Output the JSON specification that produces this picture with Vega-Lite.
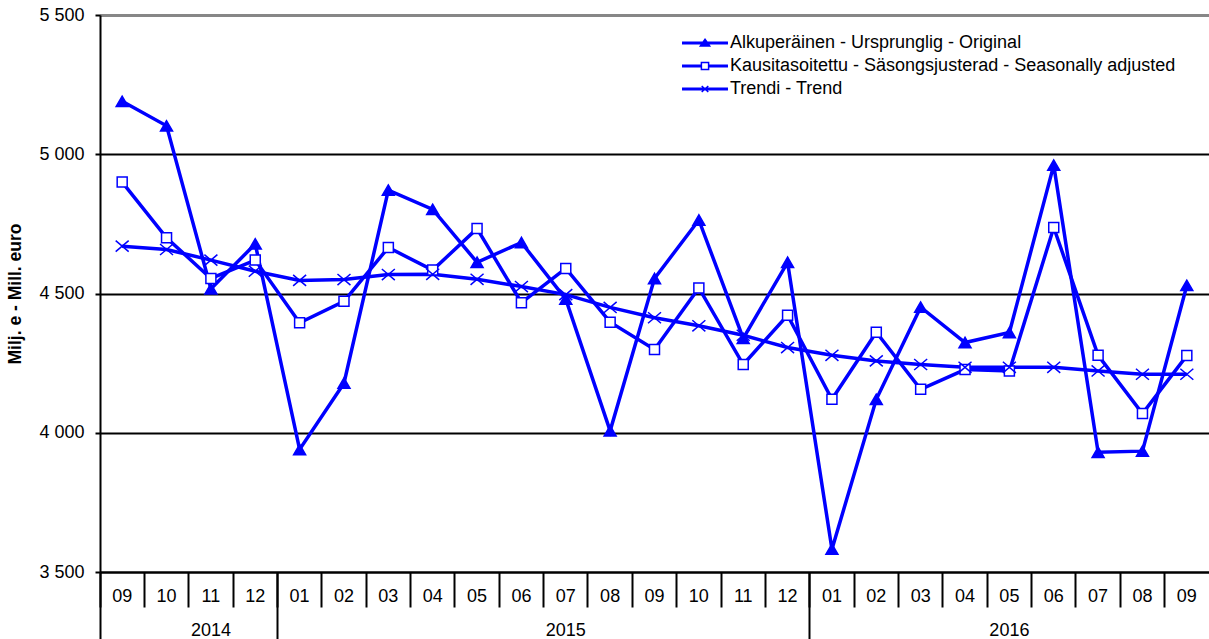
{
  "$schema": "https://vega.github.io/schema/vega-lite/v6.json",
  "width": 1109,
  "height": 557,
  "autosize": {"type": "none"},
  "padding": {"left": 100, "top": 15, "right": 0, "bottom": 67},
  "background": "white",
  "config": {
    "view": {"stroke": null},
    "font": "Liberation Sans",
    "axis": {"labelFont": "Liberation Sans", "labelColor": "#000000", "titleColor": "#000000", "titleFont": "Liberation Sans"}
  },
  "data": {
    "values": [
      {"month": "2014-09", "orig": 5190, "sa": 4900, "trend": 4670},
      {"month": "2014-10", "orig": 5102, "sa": 4700, "trend": 4658},
      {"month": "2014-11", "orig": 4517, "sa": 4554, "trend": 4620},
      {"month": "2014-12", "orig": 4678, "sa": 4620, "trend": 4580},
      {"month": "2015-01", "orig": 3940, "sa": 4395, "trend": 4547},
      {"month": "2015-02", "orig": 4178, "sa": 4472, "trend": 4550},
      {"month": "2015-03", "orig": 4871, "sa": 4665, "trend": 4568},
      {"month": "2015-04", "orig": 4802, "sa": 4584, "trend": 4569},
      {"month": "2015-05", "orig": 4612, "sa": 4733, "trend": 4551},
      {"month": "2015-06", "orig": 4683, "sa": 4467, "trend": 4525},
      {"month": "2015-07", "orig": 4480, "sa": 4590, "trend": 4496},
      {"month": "2015-08", "orig": 4007, "sa": 4397, "trend": 4450},
      {"month": "2015-09", "orig": 4554, "sa": 4299, "trend": 4413},
      {"month": "2015-10", "orig": 4764, "sa": 4520, "trend": 4384},
      {"month": "2015-11", "orig": 4339, "sa": 4245, "trend": 4350},
      {"month": "2015-12", "orig": 4612, "sa": 4422, "trend": 4306},
      {"month": "2016-01", "orig": 3582, "sa": 4120, "trend": 4278},
      {"month": "2016-02", "orig": 4120, "sa": 4361, "trend": 4258},
      {"month": "2016-03", "orig": 4451, "sa": 4156, "trend": 4245},
      {"month": "2016-04", "orig": 4324, "sa": 4227, "trend": 4235},
      {"month": "2016-05", "orig": 4360, "sa": 4222, "trend": 4235},
      {"month": "2016-06", "orig": 4961, "sa": 4737, "trend": 4235},
      {"month": "2016-07", "orig": 3930, "sa": 4278, "trend": 4222},
      {"month": "2016-08", "orig": 3934, "sa": 4069, "trend": 4210},
      {"month": "2016-09", "orig": 4529, "sa": 4277, "trend": 4210}
    ]
  },
  "transform": [{"fold": ["orig", "sa", "trend"], "as": ["series", "value"]}],
  "layer": [
    {
      "mark": {"type": "line", "stroke": "#0000ff", "strokeWidth": 3.5},
      "encoding": {
        "x": {
          "field": "month", "type": "ordinal",
          "scale": {"type": "band", "paddingInner": 0, "paddingOuter": 0},
          "axis": {
            "title": null, "orient": "bottom", "labelExpr": "slice(datum.value, 5)",
            "ticks": false, "tickSize": 0, "labelPadding": 15, "labelFontSize": 18,
            "labelAngle": 0, "labelBaseline": "top", "domain": true, "domainColor": "#000000",
            "domainWidth": 2, "grid": false
          }
        },
        "y": {
          "field": "value", "type": "quantitative",
          "scale": {"domain": [3500, 5500], "nice": false, "zero": false},
          "axis": {
            "title": "Milj. e - Mill. euro", "titleFontSize": 17.5, "titleFontWeight": "bold",
            "titlePadding": 14, "values": [3500, 4000, 4500, 5000, 5500],
            "labelExpr": "replace(format(datum.value, ','), ',', ' ')",
            "labelFontSize": 18, "labelPadding": 11, "tickSize": 5, "tickWidth": 2,
            "tickColor": "#000000", "domainColor": "#000000", "domainWidth": 2, "grid": true,
            "gridColor": "#000000", "gridWidth": 2
          }
        },
        "detail": {"field": "series"}
      }
    },
    {
      "transform": [{"filter": "datum.series === 'orig'"}],
      "mark": {"type": "point", "shape": "triangle-up", "size": 144, "fill": "#0000ff", "stroke": "#0000ff", "strokeWidth": 1.5, "opacity": 1, "filled": true},
      "encoding": {
        "x": {"field": "month", "type": "ordinal", "scale": {"type": "band", "paddingInner": 0, "paddingOuter": 0}, "axis": null},
        "y": {"field": "value", "type": "quantitative", "scale": {"domain": [3500, 5500], "nice": false, "zero": false}}
      }
    },
    {
      "transform": [{"filter": "datum.series === 'sa'"}],
      "mark": {"type": "point", "shape": "square", "size": 100, "fill": "#ffffff", "stroke": "#0000ff", "strokeWidth": 1.5, "opacity": 1},
      "encoding": {
        "x": {"field": "month", "type": "ordinal", "scale": {"type": "band", "paddingInner": 0, "paddingOuter": 0}, "axis": null},
        "y": {"field": "value", "type": "quantitative", "scale": {"domain": [3500, 5500], "nice": false, "zero": false}}
      }
    },
    {
      "transform": [{"filter": "datum.series === 'trend'"}],
      "mark": {"type": "point", "shape": "M-1,-0.85L1,0.85M-1,0.85L1,-0.85", "size": 169, "fill": "transparent", "stroke": "#0000ff", "strokeWidth": 1.5, "opacity": 1},
      "encoding": {
        "x": {"field": "month", "type": "ordinal", "scale": {"type": "band", "paddingInner": 0, "paddingOuter": 0}, "axis": null},
        "y": {"field": "value", "type": "quantitative", "scale": {"domain": [3500, 5500], "nice": false, "zero": false}}
      }
    },
    {
      "mark": {"type": "point", "size": 144, "stroke": "#0000ff", "strokeWidth": 1.5, "opacity": 0},
      "encoding": {
        "x": {"field": "month", "type": "ordinal", "scale": {"type": "band", "paddingInner": 0, "paddingOuter": 0}, "axis": null},
        "y": {"field": "value", "type": "quantitative", "scale": {"domain": [3500, 5500], "nice": false, "zero": false}},
        "shape": {
          "field": "series", "type": "nominal",
          "scale": {
            "domain": ["orig", "sa", "trend"],
            "range": [
              "M-3.83,-0.12H3.83M-3.83,0.12H3.83M0,-0.62L0.78,0.52H-0.78Z",
              "M-3.83,-0.12H-0.6M-3.83,0.12H-0.6M0.6,-0.12H3.83M0.6,0.12H3.83M-0.6,-0.6H0.6V0.6H-0.6Z",
              "M-3.83,-0.12H3.83M-3.83,0.12H3.83M-0.55,-0.5L0.55,0.5M-0.55,0.5L0.55,-0.5"
            ]
          },
          "legend": {
            "orient": "none", "legendX": 596, "legendY": 19, "title": null, "padding": 0,
            "labelExpr": "datum.value === 'orig' ? 'Alkuperäinen - Ursprunglig - Original' : datum.value === 'sa' ? 'Kausitasoitettu - Säsongsjusterad - Seasonally adjusted' : 'Trendi - Trend'",
            "symbolSize": 144, "symbolStrokeWidth": 1.5, "symbolOpacity": 1,
            "labelOffset": 16, "rowPadding": 5, "labelFont": "Liberation Sans", "labelFontSize": 18,
            "labelColor": "#000000", "labelLimit": 600
          }
        },
        "fill": {
          "field": "series", "type": "nominal",
          "scale": {"domain": ["orig", "sa", "trend"], "range": ["#0000ff", "#ffffff", "transparent"]},
          "legend": {
            "orient": "none", "legendX": 596, "legendY": 19, "title": null, "padding": 0,
            "symbolSize": 144, "symbolStrokeWidth": 1.5, "symbolOpacity": 1,
            "labelOffset": 16, "rowPadding": 5, "labelFont": "Liberation Sans", "labelFontSize": 18,
            "labelColor": "#000000", "labelLimit": 600,
            "labelExpr": "datum.value === 'orig' ? 'Alkuperäinen - Ursprunglig - Original' : datum.value === 'sa' ? 'Kausitasoitettu - Säsongsjusterad - Seasonally adjusted' : 'Trendi - Trend'"
          }
        }
      }
    },
    {
      "mark": {"type": "rule", "opacity": 0},
      "encoding": {
        "x": {
          "field": "month", "type": "ordinal",
          "scale": {"type": "band", "paddingInner": 0, "paddingOuter": 0},
          "axis": {"title": null, "orient": "bottom", "bandPosition": 0, "ticks": true, "tickSize": 35, "tickWidth": 2, "tickColor": "#000000", "labels": false, "domain": false, "grid": false}
        }
      }
    },
    {
      "mark": {"type": "rule", "opacity": 0},
      "encoding": {
        "x": {
          "field": "month", "type": "ordinal",
          "scale": {"type": "band", "paddingInner": 0, "paddingOuter": 0},
          "axis": {"title": null, "orient": "bottom", "bandPosition": 0, "values": ["2014-09", "2015-01", "2016-01"], "ticks": true, "tickSize": 67, "tickWidth": 2, "tickColor": "#000000", "labels": false, "domain": false, "grid": false}
        }
      }
    },
    {
      "mark": {"type": "rule", "opacity": 0},
      "encoding": {
        "x": {
          "field": "month", "type": "ordinal",
          "scale": {"type": "band", "paddingInner": 0, "paddingOuter": 0},
          "axis": {"title": null, "orient": "bottom", "bandPosition": 0, "values": ["2014-11", "2015-07"], "labelExpr": "datum.value === '2014-11' ? '2014' : '2015'", "ticks": false, "tickSize": 0, "labelPadding": 49, "labelFontSize": 18, "labelAngle": 0, "labelBaseline": "top", "domain": false, "grid": false}
        }
      }
    },
    {
      "mark": {"type": "rule", "opacity": 0},
      "encoding": {
        "x": {
          "field": "month", "type": "ordinal",
          "scale": {"type": "band", "paddingInner": 0, "paddingOuter": 0},
          "axis": {"title": null, "orient": "bottom", "bandPosition": 0.5, "values": ["2016-05"], "labelExpr": "'2016'", "ticks": false, "tickSize": 0, "labelPadding": 49, "labelFontSize": 18, "labelAngle": 0, "labelBaseline": "top", "domain": false, "grid": false}
        }
      }
    },
    {
      "mark": {"type": "rule", "opacity": 0},
      "encoding": {
        "x": {
          "field": "month", "type": "ordinal",
          "scale": {"type": "band", "paddingInner": 0, "paddingOuter": 0},
          "axis": {"title": null, "orient": "top", "ticks": false, "labels": false, "domain": true, "domainColor": "#878787", "domainWidth": 3, "grid": false}
        }
      }
    }
  ],
  "resolve": {"scale": {"x": "independent"}}
}
